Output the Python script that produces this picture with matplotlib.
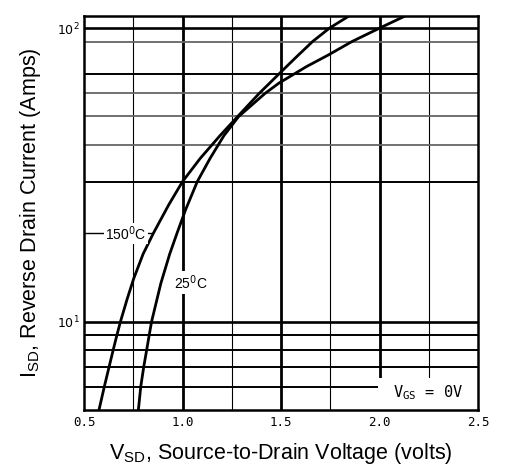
import numpy as np
import matplotlib
matplotlib.use("Agg")
import matplotlib.pyplot as plt
from matplotlib.patches import Rectangle

# curves (V_SD in volts, I_SD in amps)
v_150 = [0.576, 0.603, 0.627, 0.648, 0.667, 0.685, 0.72, 0.752, 0.80, 0.852, 0.93, 1.0,
         1.09, 1.19, 1.28, 1.39, 1.51, 1.58, 1.66, 1.746, 1.845]
i_150 = [5, 6, 7, 8, 9, 10, 12, 14, 17, 20, 25, 30, 36, 43, 50, 60, 72, 80, 90, 100, 110]

v_25 = [0.776, 0.788, 0.803, 0.818, 0.831, 0.843, 0.89, 0.935, 0.972, 1.015, 1.075,
        1.14, 1.21, 1.285, 1.42, 1.49, 1.63, 1.74, 1.86, 2.0, 2.13]
i_25 = [5, 6, 7, 8, 9, 10, 13.5, 17, 20, 24, 30, 36, 43, 50, 60, 65, 74, 81, 90, 100, 110]

x_ticks = [0.5, 1.0, 1.5, 2.0, 2.5]
x_ticklabels = ["0.5", "1.0", "1.5", "2.0", "2.5"]
y_ticks = [10, 100]
y_ticklabels = ["$10^1$", "$10^2$"]

# chart grid as printed on the sheet
major_v = [1.0, 1.5, 2.0]
minor_v = [0.75, 1.25, 1.75, 2.25]
dark_h = [100, 70, 30, 10, 9, 8, 7, 6]
grey_h = [90, 60, 50, 40]

fig = plt.figure(figsize=(5.07, 4.76), dpi=100)
ax = fig.add_axes([0.1657, 0.1387, 0.7771, 0.8277])
ax.set_yscale("log")
ax.set_xlim(0.5, 2.5)
ax.set_ylim(5, 110)

for v in major_v:
    ax.axvline(v, color="black", lw=2.0, zorder=1)
for v in minor_v:
    ax.axvline(v, color="black", lw=0.8, zorder=1)
for h in dark_h:
    ax.axhline(h, color="black", lw=1.9 if h in (100, 10) else 1.4, zorder=1)
for h in grey_h:
    ax.axhline(h, color="#666666", lw=1.3, zorder=1)

ax.plot(v_150, i_150, color="black", lw=2.0, zorder=4)
ax.plot(v_25, i_25, color="black", lw=2.0, zorder=4)

# leader line for the 150 C label
ax.hlines(20, 0.5, 0.852, color="black", lw=1.0, zorder=2)
ax.text(0.713, 20, "150$^0$C", ha="center", va="center", fontsize=10,
        family="Liberation Sans", zorder=5,
        bbox=dict(facecolor="white", edgecolor="none", pad=1.0))
ax.text(1.04, 13.6, "25$^0$C", ha="center", va="center", fontsize=10,
        family="Liberation Sans", zorder=5,
        bbox=dict(facecolor="white", edgecolor="none", pad=1.5))

# blank corner box holding the test condition
ax.add_patch(Rectangle((0.746, 0.0), 0.254, 0.081, transform=ax.transAxes,
                       facecolor="white", edgecolor="none", zorder=3))
ax.text(0.874, 0.044, "V$_{\\mathregular{GS}}$ = 0V", transform=ax.transAxes,
        ha="center", va="center", fontsize=11, family="DejaVu Sans Mono", zorder=5)

ax.set_xticks(x_ticks)
ax.set_xticklabels(x_ticklabels, family="DejaVu Sans Mono", fontsize=9)
ax.set_yticks(y_ticks)
ax.set_yticklabels(y_ticklabels, fontsize=9)
ax.yaxis.set_minor_locator(matplotlib.ticker.NullLocator())
ax.tick_params(axis="x", length=0, pad=4)
ax.tick_params(axis="y", length=0, pad=3)

for s in ax.spines.values():
    s.set_linewidth(1.8)
    s.set_zorder(10)

ax.set_xlabel("V$_{\\mathregular{SD}}$, Source-to-Drain Voltage (volts)",
              family="Liberation Sans", fontsize=15.5, labelpad=9)
ax.set_ylabel("I$_{\\mathregular{SD}}$, Reverse Drain Current (Amps)",
              family="Liberation Sans", fontsize=15.5, labelpad=10)

fig.savefig("out.png", dpi=100)
